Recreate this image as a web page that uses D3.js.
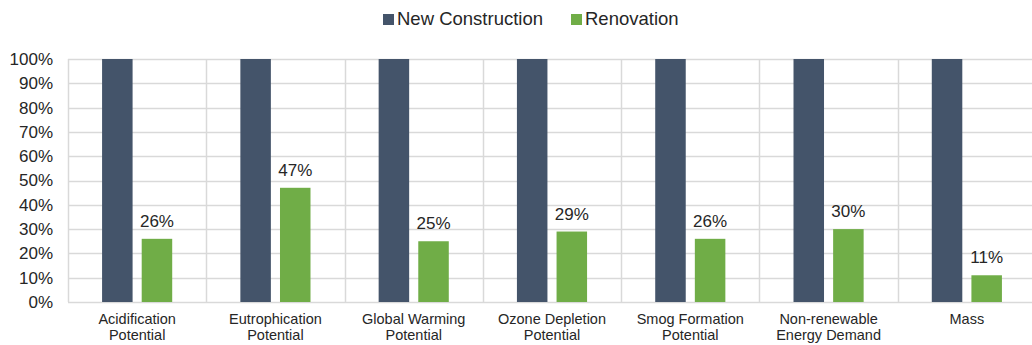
<!DOCTYPE html>
<html>
<head>
<meta charset="utf-8">
<script src="https://cdn.jsdelivr.net/npm/d3@7"></script>
<style>
  html, body { margin: 0; padding: 0; background: #fff; }
  svg { display: block; font-family: "Liberation Sans", Arial, sans-serif; }
</style>
</head>
<body>
<svg id="chart" width="1032" height="345"></svg>
<script>
// Impact categories (two-line labels)
const categories = [
  ["Acidification", "Potential"],
  ["Eutrophication", "Potential"],
  ["Global Warming", "Potential"],
  ["Ozone Depletion", "Potential"],
  ["Smog Formation", "Potential"],
  ["Non-renewable", "Energy Demand"],
  ["Mass"]
];
const seriesNames = ["New Construction", "Renovation"];
const newConstruction = [100, 100, 100, 100, 100, 100, 100];
const renovation = [26, 47, 25, 29, 26, 30, 11];
const yTicks = [0, 10, 20, 30, 40, 50, 60, 70, 80, 90, 100];
const colors = ["#44546a", "#70ad47"];

const svg = d3.select("#chart");
const margin = { top: 59, left: 68, right: -4, bottom: 43 };
const W = 1032, H = 345;
const plotRight = W - margin.right;
const plotBottom = H - margin.bottom;
const textColor = "#262626";

const x = d3.scaleBand()
  .domain(d3.range(categories.length))
  .range([margin.left, plotRight])
  .paddingInner(0).paddingOuter(0);

const x1 = d3.scaleBand()
  .domain([0, 1])
  .range([0, x.bandwidth()])
  .paddingInner(0.23)
  .paddingOuter(0.86);

const y = d3.scaleLinear().domain([0, 100]).range([plotBottom, margin.top]);

// horizontal gridlines
svg.append("g")
  .selectAll("line")
  .data(yTicks)
  .join("line")
  .attr("x1", margin.left).attr("x2", plotRight)
  .attr("y1", d => Math.round(y(d)) + 0.5).attr("y2", d => Math.round(y(d)) + 0.5)
  .attr("stroke", "#d9d9d9").attr("stroke-width", 1.5);

// vertical category separators
svg.append("g")
  .selectAll("line")
  .data(d3.range(categories.length + 1))
  .join("line")
  .attr("x1", i => Math.round(margin.left + i * x.bandwidth()) + 0.5)
  .attr("x2", i => Math.round(margin.left + i * x.bandwidth()) + 0.5)
  .attr("y1", margin.top).attr("y2", plotBottom)
  .attr("stroke", "#d9d9d9").attr("stroke-width", 1.5);

// y axis labels
const yAxis = d3.axisLeft(y).tickValues(yTicks).tickFormat(d => d + "%").tickSize(0).tickPadding(15);
const ga = svg.append("g").attr("transform", `translate(${margin.left},0)`).call(yAxis);
ga.select(".domain").remove();
ga.selectAll("text").attr("font-size", 17).attr("fill", textColor).attr("font-family", "Liberation Sans, Arial, sans-serif");

// bars
const series = [newConstruction, renovation];
series.forEach((vals, s) => {
  svg.append("g")
    .selectAll("rect")
    .data(vals)
    .join("rect")
    .attr("x", (d, i) => x(i) + x1(s))
    .attr("width", x1.bandwidth())
    .attr("y", d => y(d))
    .attr("height", d => y(0) - y(d))
    .attr("fill", colors[s]);
});

// value labels for renovation
svg.append("g")
  .selectAll("text")
  .data(renovation)
  .join("text")
  .attr("x", (d, i) => x(i) + x1(1) + x1.bandwidth() / 2)
  .attr("y", d => y(d) - 12)
  .attr("text-anchor", "middle")
  .attr("font-size", 17)
  .attr("fill", textColor)
  .text(d => d + "%");

// category labels
const cl = svg.append("g")
  .selectAll("text")
  .data(categories)
  .join("text")
  .attr("x", (d, i) => x(i) + x.bandwidth() / 2)
  .attr("y", 324)
  .attr("text-anchor", "middle")
  .attr("font-size", 14.5)
  .attr("fill", textColor);
cl.selectAll("tspan")
  .data(d => d)
  .join("tspan")
  .attr("x", function () { return d3.select(this.parentNode).attr("x"); })
  .attr("dy", (d, j) => j === 0 ? 0 : 16)
  .text(d => d);

// legend
const legendItems = [
  { name: seriesNames[0], color: colors[0], x: 383 },
  { name: seriesNames[1], color: colors[1], x: 571 }
];
const lg = svg.append("g").selectAll("g").data(legendItems).join("g")
  .attr("transform", d => `translate(${d.x},0)`);
lg.append("rect").attr("x", 0).attr("y", 14).attr("width", 11).attr("height", 11).attr("fill", d => d.color);
lg.append("text").attr("x", 14).attr("y", 25).attr("font-size", 18.5).attr("fill", textColor).text(d => d.name);
</script>
</body>
</html>
